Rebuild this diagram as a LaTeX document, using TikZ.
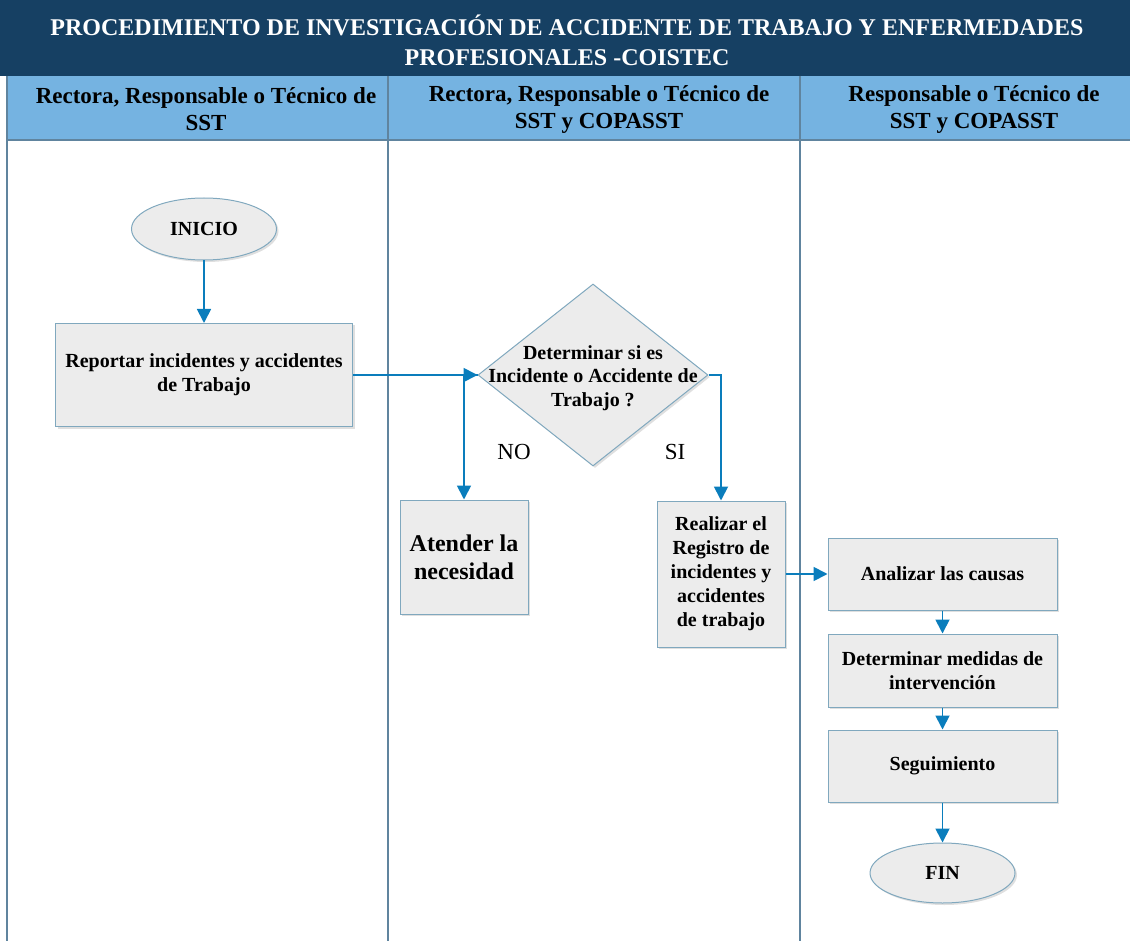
\documentclass[tikz,border=0pt]{standalone}
\usepackage{fontspec}
\setmainfont{Liberation Serif}
\usetikzlibrary{arrows.meta,positioning,shapes.geometric,shadows}
\definecolor{cnavy}{RGB}{22,64,99}
\definecolor{chead}{RGB}{117,179,225}
\definecolor{clane}{RGB}{96,132,158}
\definecolor{cbord}{RGB}{128,168,190}
\definecolor{cfill}{RGB}{236,236,236}
\definecolor{carrow}{RGB}{10,125,188}
\newcommand{\fsz}[2]{\fontsize{#1}{#2}\selectfont}

\begin{document}
\begin{tikzpicture}[x=1pt,y=-1pt,
    lane/.style={draw=clane, line width=2pt},
    shade/.style={drop shadow={shadow xshift=2pt,shadow yshift=-2pt,opacity=0.25}},
    procbox/.style={draw=cbord, fill=cfill, line width=1pt, align=center,
      inner sep=2pt, font=\bfseries\fsz{20}{24}, shade},
    term/.style={ellipse, draw=cbord, fill=cfill, line width=1pt,
      font=\bfseries\fsz{20}{24}, shade},
    decision/.style={diamond, draw=cbord, fill=cfill, line width=1pt,
      inner sep=0pt, shade},
    flow/.style={draw=carrow, line width=1.8pt, -{Triangle[length=14pt,width=14pt]}}]
  \useasboundingbox (0,0) rectangle (1130,941);

  % header
  \fill[cnavy] (0,0) rectangle (1130,76);
  \fill[chead] (7,76) rectangle (1130,140);
  \draw[clane, line width=1.5pt] (7,140) -- (1130,140);
  \foreach \x in {7,388,800}
    \draw[lane] (\x,76) -- (\x,941);
  \node[white, align=center, font=\bfseries\fsz{24}{30}] (title) at (567,40)
    {PROCEDIMIENTO DE INVESTIGACIÓN DE ACCIDENTE DE TRABAJO Y ENFERMEDADES\\PROFESIONALES -COISTEC};
  \node[align=center, font=\bfseries\fsz{23}{27}] (lanea) at (206,109)
    {Rectora, Responsable o Técnico de\\SST};
  \node[align=center, font=\bfseries\fsz{23}{27}] (laneb) at (599,109)
    {Rectora, Responsable o Técnico de\\SST y COPASST};
  \node[align=center, font=\bfseries\fsz{23}{27}] (lanec) at (974,109)
    {Responsable o Técnico de\\SST y COPASST};

  % flow
  \node[term, minimum width=145, minimum height=62] (ini) at (204,229) {INICIO};
  \node[procbox, minimum width=297, minimum height=103] (rep) at (204,375)
    {Reportar incidentes y accidentes\\de Trabajo};
  \node[decision, minimum width=230, minimum height=182] (dia) at (593,375) {};
  \node[align=center, font=\bfseries\fsz{20}{23.5}] (diatxt) at (593,378)
    {Determinar si es\\Incidente o Accidente de\\Trabajo ?};
  \node[procbox, minimum width=128, minimum height=114, font=\bfseries\fsz{24}{28}] (atd) at (464,557)
    {Atender la\\necesidad};
  \node[procbox, minimum width=128, minimum height=146] (reg) at (721,574)
    {Realizar el\\Registro de\\incidentes y\\accidentes\\de trabajo};
  \node[procbox, minimum width=229, minimum height=72] (ana) at (942.5,574) {Analizar las causas};
  \node[procbox, minimum width=229, minimum height=73] (med) at (942.5,670.5)
    {Determinar medidas de\\intervención};
  \node[procbox, minimum width=229, minimum height=72] (seg) at (942.5,766) {Seguimiento};
  \node[term, minimum width=145, minimum height=60] (fin) at (942.5,873) {FIN};

  \node[font=\fsz{23}{27}] (no) at (514,452) {NO};
  \node[font=\fsz{23}{27}] (si) at (675,452) {SI};

  \draw[flow] (ini) -- (rep);
  \draw[flow] (rep.east) -- (dia.west);
  \draw[flow] (dia.west) -| (atd.north);
  \draw[flow] (dia.east) -| (reg.north);
  \draw[flow] (reg.east) -- (ana.west);
  \draw[flow] (ana) -- (med);
  \draw[flow] (med) -- (seg);
  \draw[flow] (seg) -- (fin);
\end{tikzpicture}
\end{document}
